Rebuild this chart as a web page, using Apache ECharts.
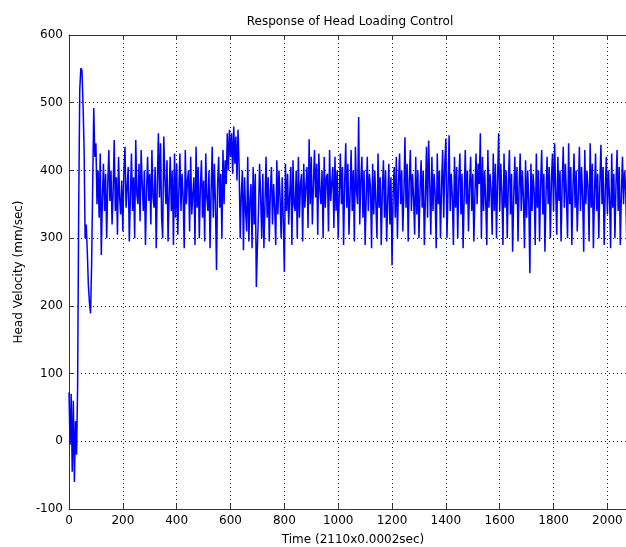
<!DOCTYPE html>
<html>
<head>
<meta charset="utf-8">
<script src="https://cdn.jsdelivr.net/npm/echarts@6/dist/echarts.min.js"></script>
<style>html,body{margin:0;padding:0;background:#fff;}#chart{width:626px;height:547px;}</style>
</head>
<body>
<div id="chart"></div>
<script>
// Sample spacing of the recorded velocity (time units per sample)
var sampleStep = 4;
// Head velocity (mm/sec), one row per 100 time units (25 samples per row)
var velocity = [
  72, -5, 70, -45, 60, -60, 30, -20, 80, 345, 520, 551, 548, 500, 433, 300, 320, 280, 230, 205, 189, 260, 380, 492, 420,
  440, 350, 400, 330, 425, 275, 360, 410, 340, 395, 300, 380, 430, 355, 400, 320, 370, 445, 340, 390, 305, 420, 360, 335, 385,
  310, 400, 435, 345, 375, 405, 295, 360, 425, 340, 390, 300, 445, 365, 350, 410, 325, 430, 380, 340, 400, 290, 370, 420, 355,
  395, 320, 430, 360, 345, 405, 285, 380, 455, 360, 440, 330, 300, 450, 390, 350, 415, 295, 365, 420, 340, 400, 290, 425, 330,
  410, 305, 370, 425, 340, 395, 360, 285, 430, 350, 385, 400, 310, 420, 335, 365, 390, 290, 435, 345, 405, 300, 375, 415, 330,
  385, 295, 425, 360, 340, 400, 285, 370, 435, 330, 410, 350, 253, 380, 420, 345, 395, 300, 430, 350, 415, 380, 455, 400, 460,
  420, 455, 395, 465, 410, 450, 385, 460, 405, 300, 365, 400, 282, 390, 340, 310, 420, 295, 355, 380, 285, 405, 320, 395, 228,
  290, 340, 410, 360, 300, 395, 285, 350, 420, 330, 390, 295, 370, 405, 320, 380, 345, 290, 415, 335, 400, 360, 300, 390, 325,
  250, 410, 340, 395, 320, 365, 405, 290, 415, 350, 340, 400, 300, 420, 330, 380, 395, 295, 410, 345, 375, 405, 315, 446, 350,
  420, 320, 380, 430, 360, 410, 305, 425, 370, 350, 400, 300, 420, 345, 390, 395, 310, 430, 355, 380, 405, 315, 420, 340, 400,
  300, 365, 425, 350, 405, 290, 380, 440, 345, 410, 305, 360, 430, 340, 400, 295, 435, 370, 350, 479, 320, 385, 420, 330, 400,
  290, 360, 420, 340, 395, 375, 285, 410, 335, 400, 350, 300, 425, 345, 390, 290, 370, 415, 330, 400, 295, 355, 410, 320, 390,
  260, 365, 405, 330, 420, 300, 380, 425, 350, 400, 310, 365, 449, 345, 410, 295, 385, 430, 340, 395, 360, 305, 420, 335, 400,
  300, 370, 415, 345, 400, 290, 360, 435, 330, 444, 380, 305, 420, 340, 395, 365, 285, 425, 350, 400, 300, 375, 430, 330, 410,
  447, 300, 370, 452, 340, 395, 360, 290, 420, 345, 405, 300, 385, 425, 335, 395, 285, 360, 430, 350, 400, 310, 375, 420, 340,
  395, 295, 365, 425, 350, 410, 380, 455, 300, 420, 340, 400, 355, 290, 430, 345, 395, 370, 305, 425, 340, 410, 300, 385, 455,
  340, 410, 365, 290, 425, 345, 400, 300, 380, 430, 335, 395, 280, 360, 420, 350, 405, 295, 375, 425, 340, 400, 360, 285, 415,
  330, 400, 355, 248, 410, 340, 395, 370, 290, 425, 345, 400, 295, 380, 430, 335, 395, 280, 365, 420, 350, 405, 300, 385, 425,
  340, 440, 370, 305, 420, 355, 400, 295, 380, 435, 345, 410, 360, 300, 440, 350, 405, 290, 375, 425, 345, 400, 310, 365, 435,
  340, 405, 360, 280, 430, 350, 400, 375, 295, 440, 345, 410, 285, 365, 425, 340, 395, 300, 380, 438, 350, 405, 290, 370, 420,
  335, 400, 360, 285, 425, 345, 395, 300, 380, 430, 340, 405, 290, 365, 420, 350, 400, 370, 295, 425, 335, 395, 300, 380, 410,
  330, 395, 310
];
var xTicks = [0, 200, 400, 600, 800, 1000, 1200, 1400, 1600, 1800, 2000];
var yTicks = [-100, 0, 100, 200, 300, 400, 500, 600];
var titleText = 'Response of Head Loading Control';
var xName = 'Time (2110x0.0002sec)';
var yName = 'Head Velocity (mm/sec)';

var points = velocity.map(function (v, i) { return [i * sampleStep, v]; });
var font = '"DejaVu Sans", Arial, sans-serif';
var gridLine = { show: true, lineStyle: { color: '#222', type: [1, 3], width: 1 } };
var axisLineStyle = { color: '#333', width: 1 };

var chart = echarts.init(document.getElementById('chart'), null, { renderer: 'canvas' });
chart.setOption({
  animation: false,
  backgroundColor: '#fff',
  title: {
    text: titleText, left: 345, textAlign: 'center', top: 11,
    textStyle: { fontFamily: font, fontSize: 12, fontWeight: 'normal', color: '#000' }
  },
  grid: { left: 69, top: 35, right: -11, bottom: 38, containLabel: false, outerBoundsMode: 'none' },
  xAxis: [{
    type: 'value', min: 0, max: 2110, interval: 200,
    name: xName, nameLocation: 'middle', nameGap: 25,
    nameTextStyle: { fontFamily: font, fontSize: 12, color: '#000' },
    axisLine: { show: true, onZero: false, lineStyle: axisLineStyle },
    axisTick: { show: true, inside: true, length: 5, lineStyle: axisLineStyle },
    axisLabel: {
      fontFamily: font, fontSize: 12, color: '#000', margin: 6,
      formatter: function (v) { return xTicks.indexOf(v) >= 0 ? String(v) : ''; }
    },
    splitLine: gridLine
  }, {
    type: 'value', min: 0, max: 2110, interval: 200, position: 'top',
    axisLine: { show: true, onZero: false, lineStyle: axisLineStyle },
    axisTick: { show: true, inside: true, length: 5, lineStyle: axisLineStyle },
    axisLabel: { show: false },
    splitLine: { show: false }
  }],
  yAxis: {
    type: 'value', min: -100, max: 600, interval: 100,
    name: yName, nameLocation: 'middle', nameGap: 44, nameRotate: 90,
    nameTextStyle: { fontFamily: font, fontSize: 12, color: '#000' },
    axisLine: { show: true, onZero: false, lineStyle: axisLineStyle },
    axisTick: { show: true, inside: true, length: 5, lineStyle: axisLineStyle },
    axisLabel: {
      fontFamily: font, fontSize: 12, color: '#000', margin: 6,
      formatter: function (v) { return yTicks.indexOf(v) >= 0 ? String(v) : ''; }
    },
    splitLine: gridLine
  },
  series: [{
    type: 'line', xAxisIndex: 0, data: points, showSymbol: false, symbol: 'none',
    lineStyle: { color: '#0000ff', width: 1.5 }, clip: true
  }]
});
</script>
</body>
</html>
